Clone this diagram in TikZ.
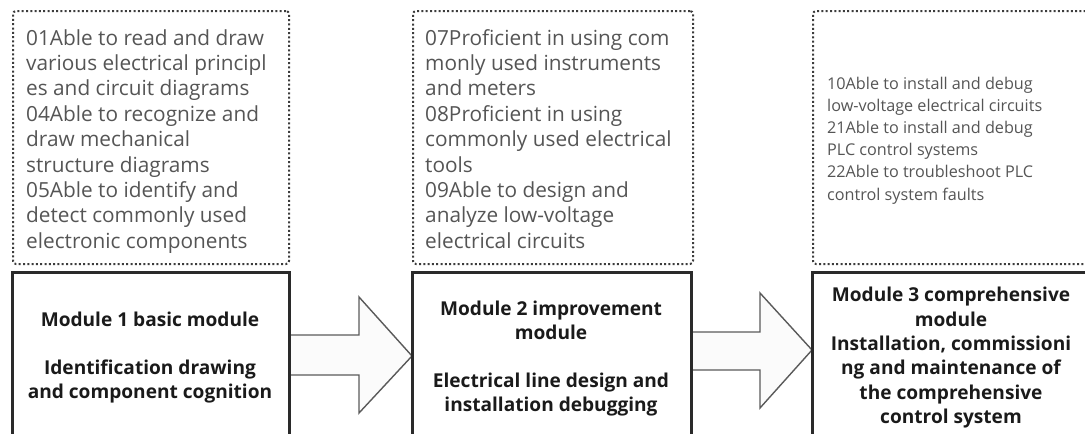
\documentclass[tikz,border=0pt]{standalone}
\usepackage{fontspec}
\setmainfont{Open Sans}
\usetikzlibrary{calc}
\definecolor{txtgray}{HTML}{555555}
\definecolor{ttl}{HTML}{1A1A1A}
\definecolor{edge}{HTML}{2A2A2A}
\definecolor{dotc}{HTML}{3C3C3C}
\definecolor{arredge}{HTML}{5A5A5A}
\definecolor{arrfill}{HTML}{FBFBFB}
\begin{document}
\begin{tikzpicture}[x=1pt,y=-1pt,
  dotbox/.style={draw=dotc, dash pattern=on 2pt off 2.3pt, line width=2pt, rounded corners=3pt, inner sep=0, anchor=north west},
  solidbox/.style={draw=edge, line width=2pt, inner sep=0, anchor=north west},
  skill/.style={inner sep=0, anchor=north west, align=left, text=txtgray, font=\fontsize{20.8}{25.4}\selectfont},
  skillsmall/.style={inner sep=0, anchor=north west, align=left, text=txtgray, font=\fontsize{16.2}{22.2}\selectfont},
  title/.style={inner sep=0, anchor=north, align=center, text=ttl, font=\bfseries\fontsize{19.1}{24}\selectfont},
  bigarrow/.style={draw=arredge, fill=arrfill, line width=1.4pt, line join=miter}]
\clip (0,0) rectangle (1085,434);

% dotted skill boxes
\node[dotbox, minimum width=276pt, minimum height=253pt] (d1) at (12,10) {};
\node[dotbox, minimum width=280pt, minimum height=253pt] (d2) at (412,10) {};
\node[dotbox, minimum width=280pt, minimum height=253pt] (d3) at (812,10) {};

% solid module boxes (reach past the lower edge)
\node[solidbox, minimum width=276pt, minimum height=200pt] (m1) at (12,272) {};
\node[solidbox, minimum width=278pt, minimum height=200pt] (m2) at (412,272) {};
\node[solidbox, minimum width=278pt, minimum height=200pt] (m3) at (812,272) {};

% block arrows
\draw[bigarrow] ($(m1.north east)+(0,63)$) -- ($(m1.north east)+(69,63)$)
  -- ($(m1.north east)+(69,25)$) -- ($(m2.north west)+(0,84)$)
  -- ($(m1.north east)+(69,141)$) -- ($(m1.north east)+(69,103)$)
  -- ($(m1.north east)+(0,103)$) -- cycle;
\draw[bigarrow] ($(m2.north east)+(0,60)$) -- ($(m2.north east)+(68,60)$)
  -- ($(m2.north east)+(68,21)$) -- ($(m3.north west)+(0,78)$)
  -- ($(m2.north east)+(68,136)$) -- ($(m2.north east)+(68,98)$)
  -- ($(m2.north east)+(0,98)$) -- cycle;

% redraw module borders over arrow ends
\draw[draw=edge, line width=2pt] (m1.north west) rectangle (m1.south east);
\draw[draw=edge, line width=2pt] (m2.north west) rectangle (m2.south east);
\draw[draw=edge, line width=2pt] (m3.north west) rectangle (m3.south east);

% skill texts
\node[skill] (s1) at (26,29) {01Able to read and draw\\various electrical principl\\es and circuit diagrams\\04Able to recognize and\\draw mechanical\\structure diagrams\\05Able to identify and\\detect commonly used\\electronic components};
\node[skill] (s2) at (425,29) {07Proficient in using com\\monly used instruments\\and meters\\08Proficient in using\\commonly used electrical\\tools\\09Able to design and\\analyze low-voltage\\electrical circuits};
\node[skillsmall] (s3) at (827,76.5) {10Able to install and debug\\low-voltage electrical circuits\\21Able to install and debug\\PLC control systems\\22Able to troubleshoot PLC\\control system faults};

% module titles
\node[title] (t1) at (150,312) {Module 1 basic module\\[24pt]Identification drawing\\and component cognition};
\node[title] (t2) at (551,301) {Module 2 improvement\\module\\[24pt]Electrical line design and\\installation debugging};
\node[title, font=\bfseries\fontsize{19.1}{24.4}\selectfont] (t3) at (951,287) {Module 3 comprehensive\\module\\Installation, commissioni\\ng and maintenance of\\the comprehensive\\control system};
\end{tikzpicture}
\end{document}
